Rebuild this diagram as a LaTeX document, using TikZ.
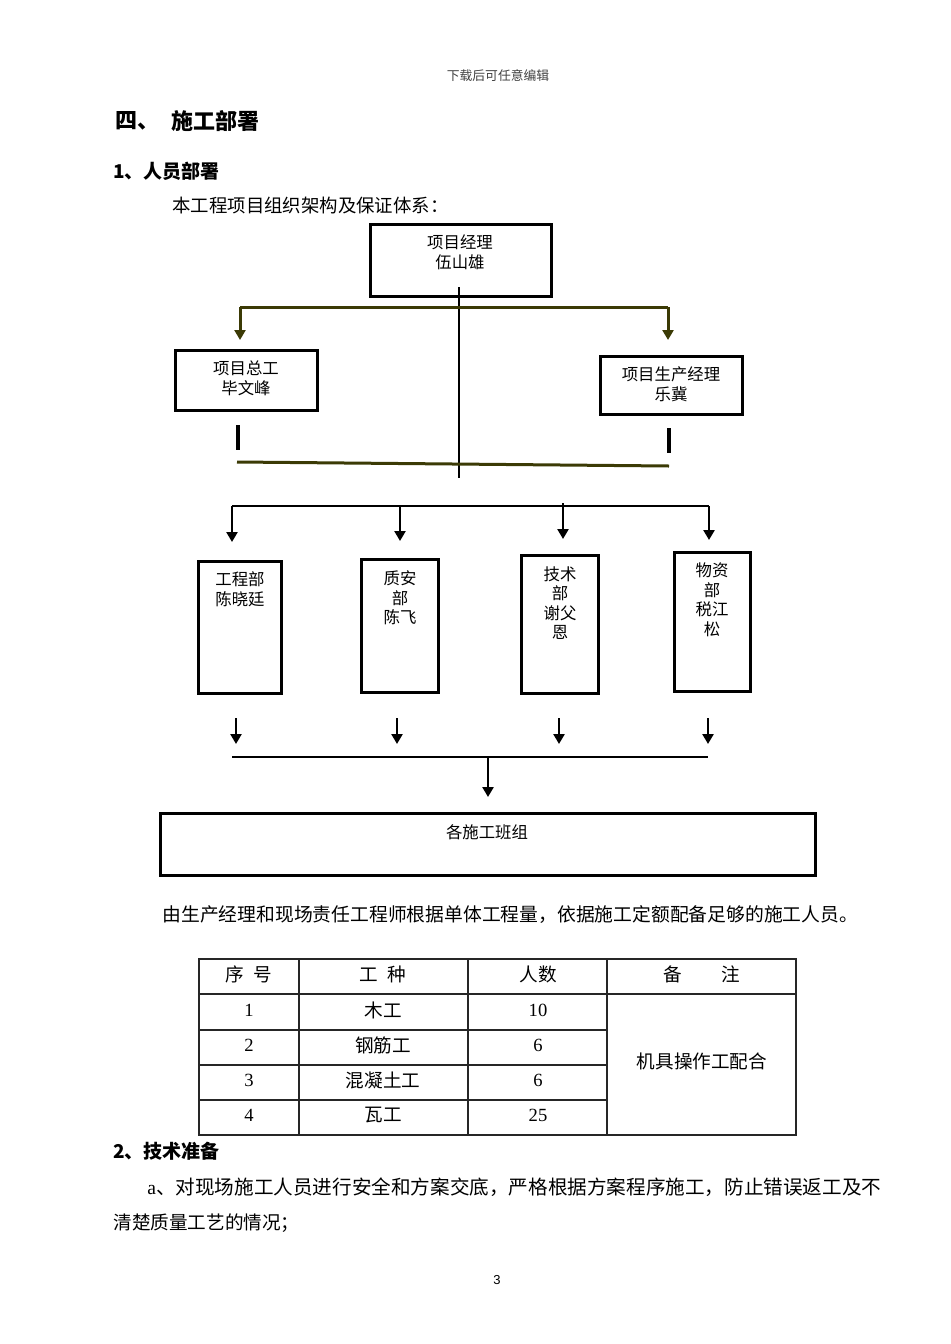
\documentclass[tikz,border=0pt]{standalone}
\usepackage{fontspec}
\setmainfont{Noto Sans CJK SC}
\newfontfamily\lser{Liberation Serif}
\newfontfamily\lsans{Liberation Sans}
\usetikzlibrary{arrows.meta,calc}
\definecolor{oliveline}{HTML}{3B3A05}
\begin{document}
\begin{tikzpicture}[x=0.5pt,y=-0.5pt,
  box/.style={draw=black,line width=1.5pt,inner sep=0pt,outer sep=0pt,anchor=north west},
  btxt/.style={font=\fontsize{8.2}{9.75}\selectfont,align=center,inner sep=0pt},
  bline/.style={line width=1.4pt,draw=black},
  oline/.style={line width=1.5pt,draw=oliveline},
  arr/.style={-{Triangle[width=5.5pt,length=5pt]}},
  body/.style={font=\fontsize{9.4}{11}\selectfont,anchor=west,inner sep=0pt},
  head/.style={font=\bfseries\fontsize{9.5}{11}\selectfont,anchor=west,inner sep=0pt},
  tline/.style={line width=0.6pt,draw=black!85},
  ttxt/.style={font=\fontsize{9.3}{11}\selectfont,inner sep=0pt}]
\useasboundingbox (0,0) rectangle (950,1344);

% page texts
\node[font=\fontsize{6.4}{8}\selectfont,text=black!75,inner sep=0pt] (hdr) at (498,76) {下载后可任意编辑};
\node[font=\bfseries\fontsize{11}{13}\selectfont,anchor=west,inner sep=0pt] (h4a) at (115,121) {四、};
\node[font=\bfseries\fontsize{11}{13}\selectfont,anchor=west,inner sep=0pt] (h4b) at (171,121) {施工部署};
\node[head] (h1) at (113,171) {1、人员部署};
\node[body,font=\fontsize{9.2}{11}\selectfont] (intro) at (172,206) {本工程项目组织架构及保证体系：};

% org chart boxes
\node[box,minimum width=90.5pt,minimum height=36pt] (pm) at (370,224) {};
\node[btxt,font=\fontsize{8.2}{9.75}\selectfont] (pmt) at (460,252.5) {项目经理\\伍山雄};
\node[box,minimum width=71pt,minimum height=30pt] (gc) at (175,350) {};
\node[btxt,font=\fontsize{8.2}{10}\selectfont] (gct) at (246,378) {项目总工\\毕文峰};
\node[box,minimum width=71pt,minimum height=29pt] (pe) at (600,356) {};
\node[btxt,font=\fontsize{8.2}{10}\selectfont] (pet) at (671,384) {项目生产经理\\乐冀};

\node[box,minimum width=41.5pt,minimum height=66pt] (d1) at (198,561) {};
\node[btxt] (d1t) at (240,589) {工程部\\陈晓廷};
\node[box,minimum width=38.5pt,minimum height=66.5pt] (d2) at (361,559) {};
\node[btxt] (d2t) at (400,598) {质安\\部\\陈飞};
\node[box,minimum width=38.5pt,minimum height=69pt] (d3) at (521,555) {};
\node[btxt] (d3t) at (560,603) {技术\\部\\谢父\\恩};
\node[box,minimum width=38pt,minimum height=69.5pt] (d4) at (674,552) {};
\node[btxt] (d4t) at (712,600) {物资\\部\\税江\\松};

\node[box,minimum width=327.5pt,minimum height=31pt] (team) at (160,813) {};
\node[btxt] (teamt) at (487,832) {各施工班组};

% connectors, top level
\coordinate (v0) at (459,287);
\coordinate (v1) at (459,478);
\draw[bline] (v0) -- (v1);
\coordinate (oa) at (240,307);
\coordinate (ob) at (668,307);
\draw[oline] (oa) -- (ob);
\draw[oline,arr,shorten >=5pt] (oa) -- (oa |- gc.north);
\draw[oline,arr,shorten >=8pt] (ob) -- (ob |- pe.north);
\coordinate (ba0) at (238,425);
\coordinate (ba1) at (238,450);
\coordinate (bb0) at (669,428);
\coordinate (bb1) at (669,453);
\draw[bline,line width=1.7pt] (ba0) -- (ba1);
\draw[bline,line width=1.7pt] (bb0) -- (bb1);
\coordinate (ol0) at (237,462);
\coordinate (ol1) at (669,466);
\draw[oline] (ol0) -- (ol1);

% second level
\coordinate (h0) at (232,506);
\coordinate (hh) at (709,506);
\draw[bline] (h0) -- (hh);
\coordinate (a1) at (232,506);
\coordinate (a2) at (400,506);
\coordinate (a3) at (563,503);
\coordinate (a4) at (709,506);
\draw[bline,arr,shorten >=9.5pt] (a1) -- (a1 |- d1.north);
\draw[bline,arr,shorten >=9pt] (a2) -- (a2 |- d2.north);
\draw[bline,arr,shorten >=8pt] (a3) -- (a3 |- d3.north);
\draw[bline,arr,shorten >=6pt] (a4) -- (a4 |- d4.north);

% third level
\coordinate (b1) at (236,718);
\coordinate (b2) at (397,718);
\coordinate (b3) at (559,718);
\coordinate (b4) at (708,718);
\draw[bline,arr] (b1) -- ++(0,26);
\draw[bline,arr] (b2) -- ++(0,26);
\draw[bline,arr] (b3) -- ++(0,26);
\draw[bline,arr] (b4) -- ++(0,26);
\coordinate (l0) at (232,757);
\coordinate (l1) at (708,757);
\draw[bline] (l0) -- (l1);
\coordinate (lm) at (488,757);
\draw[bline,arr,shorten >=8pt] (lm) -- (lm |- team.north);

% paragraph
\node[body,font=\fontsize{9.4}{11}\selectfont] (para) at (162,915) {由生产经理和现场责任工程师根据单体工程量，依据施工定额配备足够的施工人员。};

% table
\draw[tline,line width=0.8pt] (199,959) rectangle (796,1135);
\draw[tline] (299,959) -- (299,1135);
\draw[tline] (468,959) -- (468,1135);
\draw[tline] (607,959) -- (607,1135);
\draw[tline] (199,994) -- (796,994);
\draw[tline] (199,1030) -- (607,1030);
\draw[tline] (199,1065) -- (607,1065);
\draw[tline] (199,1100) -- (607,1100);
\node[ttxt] (c11) at (249,974) {序\hspace{0.5em}号};
\node[ttxt] (c12) at (383,974) {工\hspace{0.5em}种};
\node[ttxt] (c13) at (538,974) {人数};
\node[ttxt] (c14) at (702,974) {备\hspace{2.1em}注};
\node[ttxt,font=\lser\fontsize{9.3}{11}\selectfont] (c21) at (249,1010) {1};
\node[ttxt] (c22) at (383,1010) {木工};
\node[ttxt,font=\lser\fontsize{9.3}{11}\selectfont] (c23) at (538,1010) {10};
\node[ttxt,font=\lser\fontsize{9.3}{11}\selectfont] (c31) at (249,1045) {2};
\node[ttxt] (c32) at (383,1045) {钢筋工};
\node[ttxt,font=\lser\fontsize{9.3}{11}\selectfont] (c33) at (538,1045) {6};
\node[ttxt,font=\lser\fontsize{9.3}{11}\selectfont] (c41) at (249,1080) {3};
\node[ttxt] (c42) at (383,1080) {混凝土工};
\node[ttxt,font=\lser\fontsize{9.3}{11}\selectfont] (c43) at (538,1080) {6};
\node[ttxt,font=\lser\fontsize{9.3}{11}\selectfont] (c51) at (249,1115) {4};
\node[ttxt] (c52) at (383,1115) {瓦工};
\node[ttxt,font=\lser\fontsize{9.3}{11}\selectfont] (c53) at (538,1115) {25};
\node[ttxt] (cm) at (702,1061) {机具操作工配合};

% section 2
\node[head] (h2) at (113,1151) {2、技术准备};
\node[body,font=\fontsize{9.8}{11}\selectfont] (pa) at (147,1187) {{\lser a}、对现场施工人员进行安全和方案交底，严格根据方案程序施工，防止错误返工及不};
\node[body,font=\fontsize{9.3}{11}\selectfont] (pb) at (113,1223) {清楚质量工艺的情况；};
\node[font=\lsans\fontsize{6.5}{8}\selectfont,inner sep=0pt] (pgno) at (497,1280) {3};
\end{tikzpicture}
\end{document}
